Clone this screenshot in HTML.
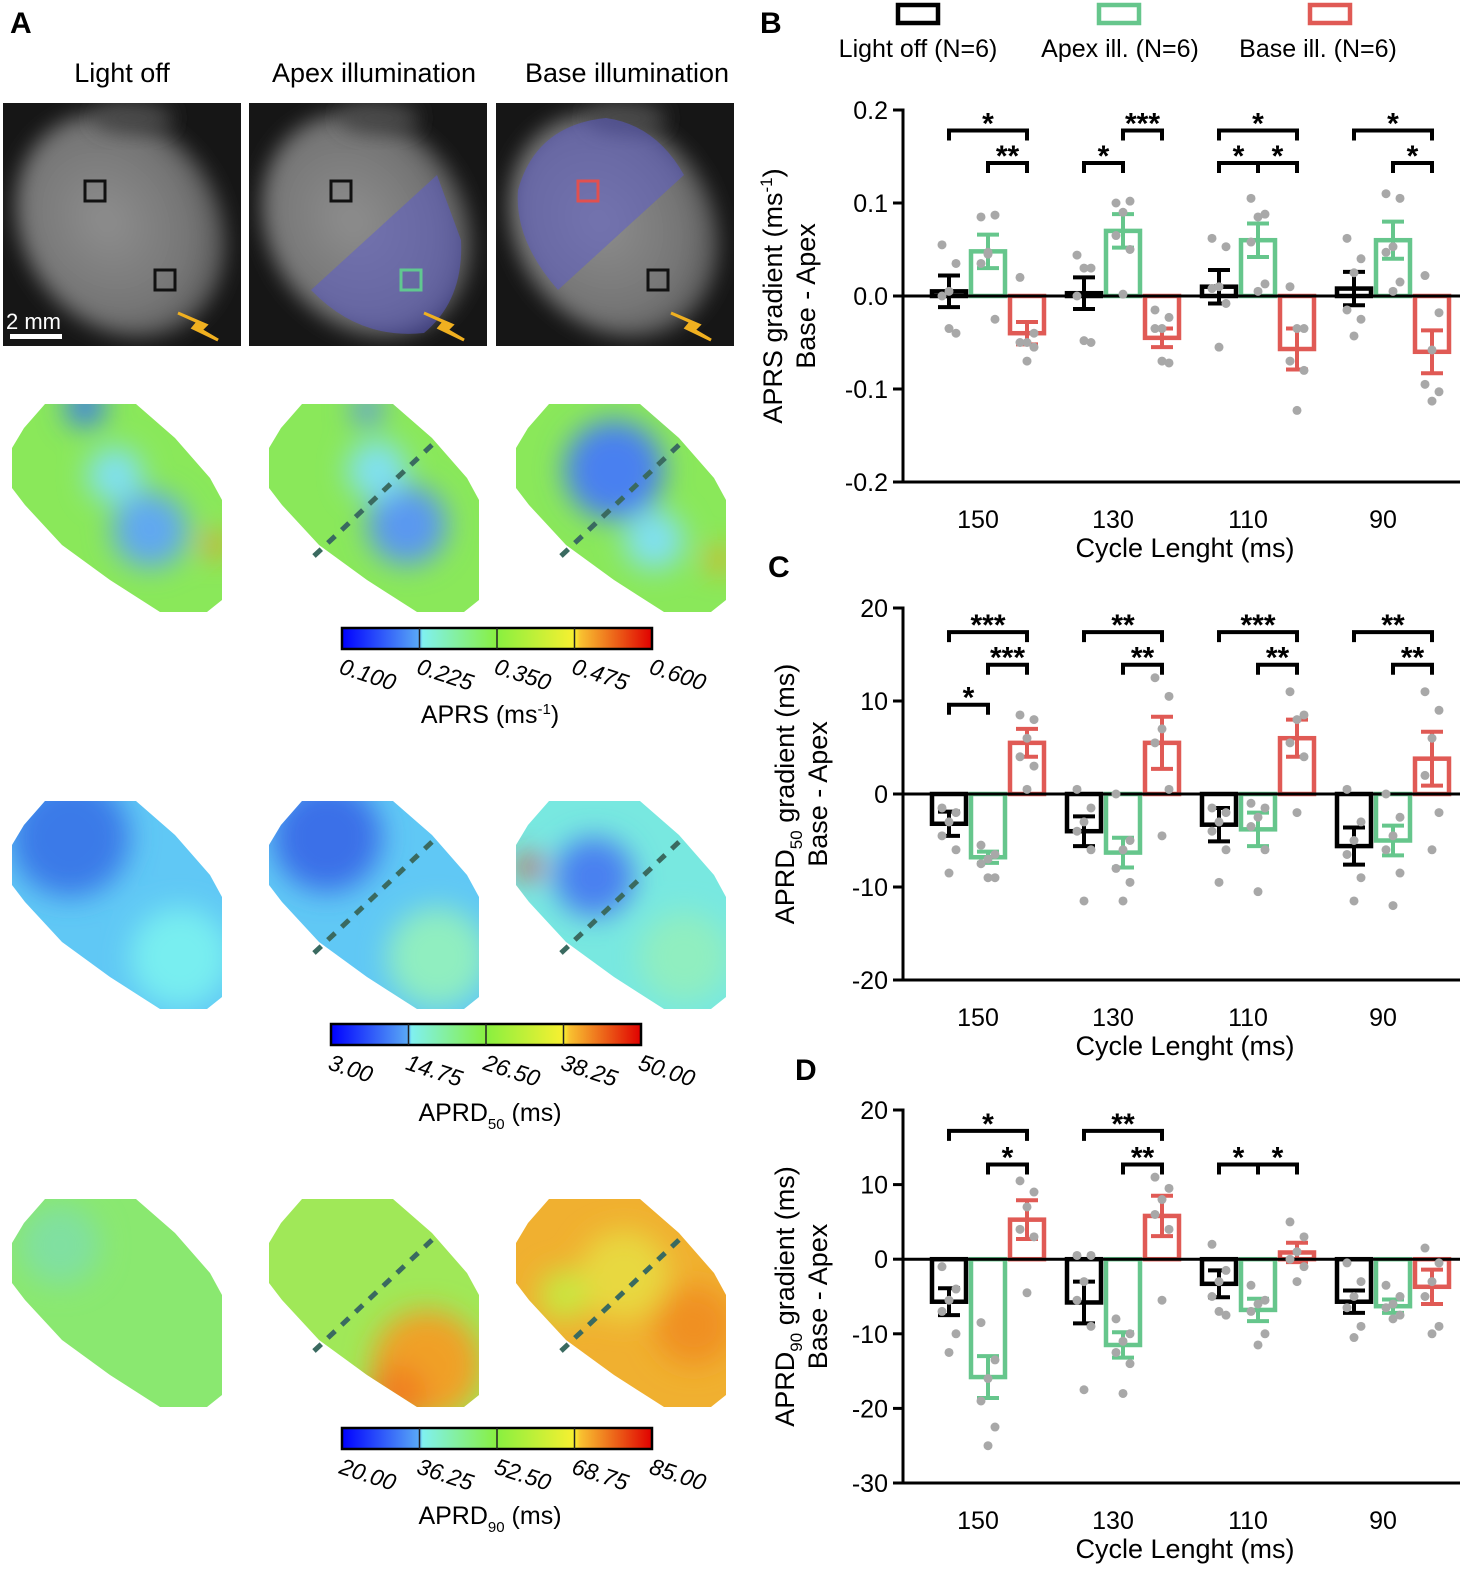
<!DOCTYPE html>
<html><head><meta charset="utf-8">
<style>
body{margin:0;background:#fff;width:1480px;height:1584px;overflow:hidden;font-family:"Liberation Sans",Arial,sans-serif}
svg text{font-family:"Liberation Sans",Arial,sans-serif}
</style></head>
<body>
<svg id="fig" width="1480" height="1584" viewBox="0 0 1480 1584" xmlns="http://www.w3.org/2000/svg">
<defs>
<filter id="blur" x="-50%" y="-50%" width="200%" height="200%"><feGaussianBlur stdDeviation="14"/></filter>
<filter id="pblur" x="-50%" y="-50%" width="200%" height="200%"><feGaussianBlur stdDeviation="10"/></filter>
<radialGradient id="heartg" cx="0.45" cy="0.45" r="0.6"><stop offset="0" stop-color="#8e8e8e"/><stop offset="0.7" stop-color="#747474"/><stop offset="1" stop-color="#4a4a4a"/></radialGradient>
<linearGradient id="cbar" x1="0" x2="1"><stop offset="0" stop-color="#0000ff"/><stop offset="0.25" stop-color="#5aaaf5"/><stop offset="0.26" stop-color="#80f0f0"/><stop offset="0.5" stop-color="#88f040"/><stop offset="0.75" stop-color="#f8f030"/><stop offset="0.77" stop-color="#f8c030"/><stop offset="1" stop-color="#e00000"/></linearGradient>
</defs>
<text x="10" y="33" font-size="30" font-weight="bold">A</text>
<text x="122" y="82" font-size="27" text-anchor="middle">Light off</text>
<text x="374" y="82" font-size="27" text-anchor="middle">Apex illumination</text>
<text x="627" y="82" font-size="27" text-anchor="middle">Base illumination</text>
<g id="photos"></g>
<g id="maps"></g>
<g id="charts"></g>
</svg>
<script>
const NS='http://www.w3.org/2000/svg';
const fig=document.getElementById('fig');
function mk(tag,attrs,parent){const e=document.createElementNS(NS,tag);for(const k in attrs)e.setAttribute(k,attrs[k]);(parent||fig).appendChild(e);return e;}

// ---------- photos ----------
const photoX=[3,249,496];
const pg=document.getElementById('photos');
photoX.forEach((x,i)=>{
  const g=mk('g',{},pg);
  
  
  const cid='pc'+i;
  const cp=mk('clipPath',{id:cid},g);
  mk('rect',{x:x,y:103,width:238,height:243},cp);
  const gi=mk('g',{'clip-path':`url(#${cid})`},g);
  mk('rect',{x:x,y:103,width:238,height:243,fill:'#161616'},gi);
  mk('ellipse',{cx:x+118,cy:225,rx:98,ry:118,transform:`rotate(-35 ${x+118} 225)`,fill:'url(#heartg)',filter:'url(#pblur)'},gi);
  mk('ellipse',{cx:x+130,cy:118,rx:40,ry:16,fill:'#4a4a4a',filter:'url(#pblur)'},gi);
  if(i===1){mk('path',{d:`M${x+188} 175 L${x+62} 290 Q${x+110} 340 ${x+175} 333 Q${x+215} 300 ${x+212} 240 Z`,fill:'#5a5ad0','fill-opacity':0.5},gi);}
  if(i===2){mk('path',{d:`M${x+188} 175 L${x+62} 290 Q${x+18} 240 ${x+22} 190 Q${x+40} 125 ${x+110} 118 Q${x+160} 125 ${x+188} 175 Z`,fill:'#5a5ad0','fill-opacity':0.5},gi);}
  const c1=i===2?'#e05050':'#111', c2=i===1?'#60c890':'#111';
  mk('rect',{x:x+82,y:181,width:20,height:20,fill:'none',stroke:c1,'stroke-width':3},gi);
  mk('rect',{x:x+152,y:270,width:20,height:20,fill:'none',stroke:c2,'stroke-width':3},gi);
  mk('path',{d:`M${x+175} 313 L${x+195} 322 L${x+190} 328 L${x+215} 340 L${x+198} 330 L${x+203} 325 Z`,fill:'#f0b020',stroke:'#f0b020','stroke-width':3},gi);
});
mk('rect',{x:10,y:334,width:52,height:5,fill:'#fff'},pg);
const sb=mk('text',{x:6,y:329,'font-size':22,fill:'#fff'},pg);sb.textContent='2 mm';



// ---------- heatmaps ----------
const mg=document.getElementById('maps');
const mapOff=[0,257,504];
const rowOff=[0,397,795];
const shapePts=[[45,404],[136,404],[175,438],[210,478],[222,500],[222,600],[207,612],[160,612],[110,580],[62,545],[25,505],[12,488],[12,448],[24,428]];
const blobs=[
 [
  {base:'#8ae85a',b:[[150,530,38,'#60a8f0'],[115,475,28,'#80e0f0'],[85,407,20,'#3a7ae8'],[215,545,12,'#f09020']]},
  {base:'#8ae85a',b:[[150,525,40,'#5a98f0'],[120,470,30,'#80e0f0'],[110,410,15,'#5a90f0']]},
  {base:'#8ae85a',b:[[110,470,50,'#4a80f0'],[150,540,30,'#80e0f0'],[215,560,12,'#f0a020']]}
 ],
 [
  {base:'#60c8f5',b:[[70,440,60,'#3a7ae8'],[180,560,50,'#78eef0']]},
  {base:'#60c8f5',b:[[70,440,55,'#3a70e8'],[180,560,50,'#90eec0']]},
  {base:'#78e8e0',b:[[90,480,40,'#4a80f0'],[25,470,12,'#e03020'],[180,560,45,'#90eec0']]}
 ],
 [
  {base:'#8ae870',b:[[60,450,40,'#80e0a0']]},
  {base:'#a0e858',b:[[170,570,55,'#f0a028'],[140,600,30,'#f08020']]},
  {base:'#f0b030',b:[[120,480,45,'#e8d840'],[190,530,40,'#f09020'],[60,500,25,'#c8e840']]}
 ]
];
rowOff.forEach((dy,r)=>{mapOff.forEach((dx,c)=>{
  const g=mk('g',{},mg);
  
  
  const id='clip'+r+c;
  const cp=mk('clipPath',{id:id},g);
  const pts=shapePts.map(p=>(p[0]+dx)+','+(p[1]+dy)).join(' ');
  mk('polygon',{points:pts},cp);
  const gi=mk('g',{'clip-path':`url(#${id})`},g);
  const B=blobs[r][c];
  mk('rect',{x:dx,y:400+dy,width:230,height:220,fill:B.base},gi);
  const gb=mk('g',{filter:'url(#blur)'},gi);
  B.b.forEach(b=>mk('circle',{cx:b[0]+dx,cy:b[1]+dy,r:b[2],fill:b[3]},gb));
  if(c>0){
    const l=mk('line',{x1:dx+57,y1:dy+556,x2:dx+176,y2:dy+444,stroke:'#3a6a60','stroke-width':5,'stroke-dasharray':'10 9'},g);
    
    
  }
});});

const cbars=[
 {x:342,y:628,ticks:['0.100','0.225','0.350','0.475','0.600'],title:'APRS (ms',sup:'-1',tail:')',ty:723,sub:null},
 {x:331,y:1024,ticks:['3.00','14.75','26.50','38.25','50.00'],title:'APRD',sub:'50',tail:' (ms)',ty:1121},
 {x:342,y:1428,ticks:['20.00','36.25','52.50','68.75','85.00'],title:'APRD',sub:'90',tail:' (ms)',ty:1524}
];
cbars.forEach((cb,k)=>{
  const g=mk('g',{},mg);
  
  
  mk('rect',{x:cb.x,y:cb.y,width:310,height:21,fill:'url(#cbar)',stroke:'#000','stroke-width':2.5},g);
  for(let i=1;i<4;i++)mk('line',{x1:cb.x+77.5*i,x2:cb.x+77.5*i,y1:cb.y,y2:cb.y+21,stroke:'#222','stroke-width':1.5},g);
  cb.ticks.forEach((t,i)=>{const tx=mk('text',{x:cb.x-4+77.5*i,y:cb.y+45,'font-size':23,'font-style':'italic',transform:`rotate(18 ${cb.x-4+77.5*i} ${cb.y+45})`},g);tx.textContent=t;});
  const tt=mk('text',{x:490,y:cb.ty,'font-size':25,'text-anchor':'middle'},g);
  
  
  tt.appendChild(document.createTextNode(cb.title));
  if(cb.sup){const s=mk('tspan',{dy:-9,'font-size':15},tt);s.textContent=cb.sup;const s2=mk('tspan',{dy:9},tt);s2.textContent=cb.tail;}
  if(cb.sub){const s=mk('tspan',{dy:8,'font-size':15},tt);s.textContent=cb.sub;const s2=mk('tspan',{dy:-8},tt);s2.textContent=cb.tail;}
});

// ---------- bar charts data ----------
const categories=['150','130','110','90'];
const seriesNames=['Light off (N=6)','Apex ill. (N=6)','Base ill. (N=6)'];
const seriesColors=['#000000','#66c68c','#e05a55'];
const bMean=[[0.005,0.048,-0.04],[0.003,0.07,-0.045],[0.01,0.06,-0.057],[0.008,0.06,-0.06]];
const bSem=[[0.017,0.018,0.012],[0.017,0.018,0.01],[0.018,0.018,0.022],[0.018,0.02,0.023]];
const bDots=[
 [[0.055,0.035,0.005,0.0,-0.04,-0.035],[0.085,0.087,0.047,0.035,-0.025,0.045],[0.02,-0.04,-0.05,-0.05,-0.055,-0.07]],
 [[0.044,0.03,0.03,0.0,-0.05,-0.048],[0.1,0.102,0.09,0.065,0.05,0.002],[-0.015,-0.023,-0.035,-0.035,-0.072,-0.07]],
 [[0.062,0.053,0.01,0.008,-0.008,-0.055],[0.105,0.088,0.085,0.058,0.013,0.005],[0.01,-0.035,-0.035,-0.07,-0.08,-0.123]],
 [[0.062,0.04,0.025,-0.015,-0.025,-0.043],[0.11,0.105,0.053,0.047,0.015,0.005],[0.022,-0.018,-0.058,-0.095,-0.103,-0.113]]
];
const bBrackets=[[0,0,2,0.178,'*'],[0,1,2,0.143,'**'],[1,0,1,0.143,'*'],[1,1,2,0.178,'***'],[2,0,2,0.178,'*'],[2,0,1,0.143,'*'],[2,1,2,0.143,'*'],[3,0,2,0.178,'*'],[3,1,2,0.143,'*']];
const bTicks=[0.2,0.1,0.0,-0.1,-0.2];
const bTickLabels=['0.2','0.1','0.0','-0.1','-0.2'];
const cMean=[[-3.2,-6.8,5.5],[-4.0,-6.3,5.5],[-3.3,-3.8,6.0],[-5.6,-5.0,3.8]];
const cSem=[[1.3,0.6,1.5],[1.6,1.6,2.8],[1.8,1.8,2.0],[2.0,1.6,2.9]];
const cDots=[
 [[-1.5,-2.0,-3.0,-4.5,-6.0,-8.5],[-5.5,-6.5,-7.0,-7.5,-9.0,-9.0],[8.5,8.0,6.0,4.0,3.0,0.5]],
 [[0.5,-1.5,-3.0,-4.0,-6.0,-11.5],[0.0,-5.0,-6.0,-8.0,-9.5,-11.5],[12.5,10.5,7.0,5.5,0.5,-4.5]],
 [[-1.5,-2.0,-3.0,-4.0,-6.0,-9.5],[-1.0,-1.5,-2.5,-3.5,-6.0,-10.5],[11.0,8.5,8.0,5.5,4.0,-2.0]],
 [[0.5,-3.0,-5.0,-6.5,-9.0,-11.5],[0.0,-2.5,-4.5,-6.0,-8.5,-12.0],[11.0,9.0,6.0,2.0,-2.0,-6.0]]
];
const cBrackets=[[0,0,2,17.4,'***'],[0,1,2,13.9,'***'],[0,0,1,9.6,'*'],[1,0,2,17.4,'**'],[1,1,2,13.9,'**'],[2,0,2,17.4,'***'],[2,1,2,13.9,'**'],[3,0,2,17.4,'**'],[3,1,2,13.9,'**']];
const cTicks=[20,10,0,-10,-20];
const cTickLabels=['20','10','0','-10','-20'];
const dMean=[[-5.7,-15.8,5.3],[-5.8,-11.5,5.8],[-3.3,-6.8,0.9],[-5.7,-6.3,-3.7]];
const dSem=[[1.8,2.8,2.6],[2.8,1.7,2.7],[1.8,1.5,1.3],[1.5,0.9,2.3]];
const dDots=[
 [[-1.0,-4.0,-5.5,-7.0,-10.0,-12.5],[-8.5,-13.5,-16.0,-19.0,-22.5,-25.0],[10.5,9.0,7.0,4.0,3.0,-4.5]],
 [[0.5,0.5,-3.0,-5.5,-9.0,-17.5],[-8.0,-10.0,-11.0,-12.5,-14.0,-18.0],[11.0,9.5,8.0,6.0,4.0,-5.5]],
 [[2.0,-1.5,-3.0,-5.0,-7.5,-7.0],[-3.5,-5.5,-6.0,-7.0,-10.0,-11.5],[5.0,3.0,1.0,0.0,-1.0,-3.0]],
 [[-0.5,-3.0,-5.0,-6.5,-9.0,-10.5],[-3.5,-5.0,-6.0,-6.5,-7.5,-8.0],[1.5,-0.5,-3.0,-5.0,-9.0,-10.0]]
];
const dBrackets=[[0,0,2,17.2,'*'],[0,1,2,12.7,'*'],[1,0,2,17.2,'**'],[1,1,2,12.7,'**'],[2,0,1,12.7,'*'],[2,1,2,12.7,'*']];
const dTicks=[20,10,0,-10,-20,-30];
const dTickLabels=['20','10','0','-10','-20','-30'];

const cg=document.getElementById('charts');
function xg(g,s){return 988+135*g+(s-1)*39;}
function drawPanel(p){
  const G=mk('g',{},cg);
  
  
  const y=v=>p.y0+(p.y1-p.y0)*(v-p.v0)/(p.v1-p.v0);
  const lab=mk('text',{x:p.lx,y:p.ly,'font-size':30,'font-weight':'bold'},G);lab.textContent=p.key.toUpperCase();
  const ya=mk('line',{x1:903,x2:903,y1:y(p.ticks[0])-1.5,y2:y(p.ticks[p.ticks.length-1])+1.5,stroke:'#000','stroke-width':3},G);
  
  
  p.ticks.forEach((t,i)=>{
    mk('line',{x1:893,x2:903,y1:y(t),y2:y(t),stroke:'#000','stroke-width':3},G);
    const tx=mk('text',{x:888,y:y(t)+9,'font-size':25,'text-anchor':'end'},G);tx.textContent=p.tl[i];
  });
  const bottom=y(p.ticks[p.ticks.length-1]);
  mk('line',{x1:903,x2:1460,y1:bottom,y2:bottom,stroke:'#000','stroke-width':3},G);
  categories.forEach((c,i)=>{const tx=mk('text',{x:xg(i,0)+39-10,y:bottom+46,'font-size':25,'text-anchor':'middle'},G);tx.textContent=c;});
  const xt=mk('text',{x:1185,y:bottom+75,'font-size':27,'text-anchor':'middle'},G);xt.textContent='Cycle Lenght (ms)';
  
  
  const cy=(y(p.ticks[0])+bottom)/2;
  const yt=mk('text',{x:p.ytx,y:cy,'font-size':27,'text-anchor':'middle',transform:`rotate(-90 ${p.ytx} ${cy})`},G);
  
  
  yt.appendChild(document.createTextNode(p.yt1));
  if(p.sub){const s=mk('tspan',{dy:8,'font-size':17},yt);s.textContent=p.sub;const s2=mk('tspan',{dy:-8},yt);s2.textContent=p.yt2;}
  if(p.sup){const s=mk('tspan',{dy:-10,'font-size':17},yt);s.textContent=p.sup;const s2=mk('tspan',{dy:10},yt);s2.textContent=p.yt2;}
  const yt2=mk('text',{x:p.ytx+33,y:cy,'font-size':27,'text-anchor':'middle',transform:`rotate(-90 ${p.ytx+33} ${cy})`},G);yt2.textContent='Base - Apex';
  p.mean.forEach((row,gi)=>row.forEach((m,si)=>{
    const cx=xg(gi,si),col=seriesColors[si];
    const b=mk('rect',{x:cx-17,y:Math.min(y(m),y(0)),width:34,height:Math.abs(y(m)-y(0)),fill:'none',stroke:col,'stroke-width':4.5},G);
    
    
    const e=p.sem[gi][si];
    mk('line',{x1:cx,x2:cx,y1:y(m+e),y2:y(m-e),stroke:col,'stroke-width':4},G);
    mk('line',{x1:cx-11,x2:cx+11,y1:y(m+e),y2:y(m+e),stroke:col,'stroke-width':4},G);
    mk('line',{x1:cx-11,x2:cx+11,y1:y(m-e),y2:y(m-e),stroke:col,'stroke-width':4},G);
  }));
  mk('line',{x1:903,x2:1460,y1:y(0),y2:y(0),stroke:'#000','stroke-width':3},G);
  p.dots.forEach((row,gi)=>row.forEach((arr,si)=>arr.forEach((v,k)=>{
    const off=[-7,7,0,-7,7,0][k];
    const d=mk('circle',{cx:xg(gi,si)+off,cy:y(v),r:4.5,fill:'#a8a8a8'},G);
    
    
  })));
  p.br.forEach(b=>{
    const x1=xg(b[0],b[1]),x2=xg(b[0],b[2]),yy=y(b[3]);
    mk('path',{d:`M${x1} ${yy+10} V${yy} H${x2} V${yy+10}`,fill:'none',stroke:'#000','stroke-width':4},G);
    const t=mk('text',{x:(x1+x2)/2,y:yy+3,'font-size':30,'text-anchor':'middle','font-weight':'bold'},G);t.textContent=b[4];
  });
}
drawPanel({key:'b',y0:110,y1:482,v0:0.2,v1:-0.2,ticks:bTicks,tl:bTickLabels,mean:bMean,sem:bSem,dots:bDots,br:bBrackets,lx:760,ly:33,ytx:782,yt1:'APRS gradient (ms',sup:'-1',yt2:')'});
drawPanel({key:'c',y0:608,y1:980,v0:20,v1:-20,ticks:cTicks,tl:cTickLabels,mean:cMean,sem:cSem,dots:cDots,br:cBrackets,lx:768,ly:577,ytx:794,yt1:'APRD',sub:'50',yt2:' gradient (ms)'});
drawPanel({key:'d',y0:1110,y1:1483,v0:20,v1:-30,ticks:dTicks,tl:dTickLabels,mean:dMean,sem:dSem,dots:dDots,br:dBrackets,lx:795,ly:1080,ytx:794,yt1:'APRD',sub:'90',yt2:' gradient (ms)'});
const legX=[[898,920],[1099,1120],[1310,1320]];
seriesNames.forEach((n,i)=>{
  const g=mk('g',{},cg);
  
  
  mk('rect',{x:legX[i][0],y:5,width:40,height:18,fill:'none',stroke:seriesColors[i],'stroke-width':4.5},g);
  const t=mk('text',{x:[918,1120,1318][i],y:57,'font-size':25,'text-anchor':'middle'},g);t.textContent=n;
});
</script>
</body></html>
